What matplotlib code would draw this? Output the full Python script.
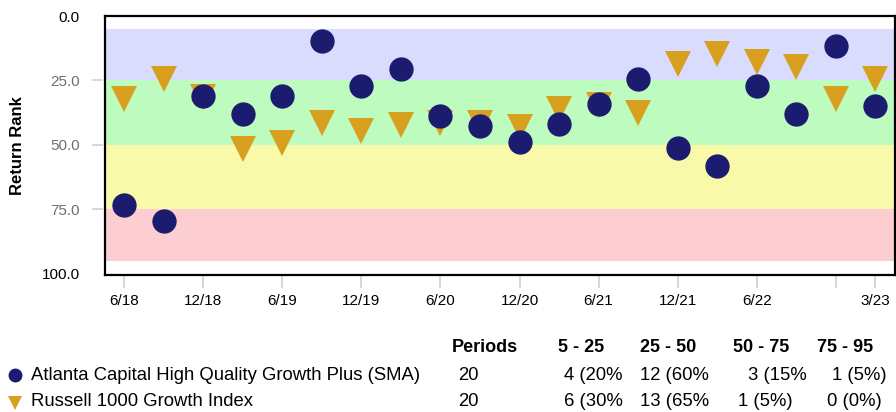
import matplotlib
matplotlib.use("Agg")
import matplotlib.pyplot as plt
from matplotlib.lines import Line2D

plt.rcParams['font.family'] = ['Liberation Sans', 'DejaVu Sans']

# ---------------- data ----------------
quarters = ["6/18", "9/18", "12/18", "3/19", "6/19", "9/19", "12/19", "3/20",
            "6/20", "9/20", "12/20", "3/21", "6/21", "9/21", "12/21", "3/22",
            "6/22", "9/22", "12/22", "3/23"]
atlanta = [73.5, 79.7, 31.2, 38.1, 31.2, 9.6, 27.3, 20.5, 38.7, 42.7,
           48.9, 42.0, 34.2, 24.6, 51.1, 58.1, 27.3, 38.1, 11.8, 35.0]
russell = [32.4, 24.6, 31.6, 51.7, 49.3, 41.6, 44.7, 42.3, 41.7, 41.6,
           43.2, 36.2, 34.7, 37.7, 18.5, 14.6, 17.7, 20.0, 32.4, 24.5]
tick_idx = [0, 2, 4, 6, 8, 10, 12, 14, 16, 18, 19]
tick_lbl = ["6/18", "12/18", "6/19", "12/19", "6/20", "12/20", "6/21",
            "12/21", "6/22", "", "3/23"]
band_edges = [5, 25, 50, 75, 95]
band_colors = ["#d9dcfd", "#bdfbbe", "#f9f9aa", "#fccdd1"]
yticks = [0, 25, 50, 75, 100]
ytick_lbl = ["0.0", "25.0", "50.0", "75.0", "100.0"]

series_names = ["Atlanta Capital High Quality Growth Plus (SMA)",
                "Russell 1000 Growth Index"]
headers = ["Periods", "5 - 25", "25 - 50", "50 - 75", "75 - 95"]
periods_n = ["20", "20"]
cells = [["4 (20%", "12 (60%", "3 (15%", "1 (5%)"],
         ["6 (30%", "13 (65%", "1 (5%)", "0 (0%)"]]

navy = "#1b1b6f"
gold = "#d9a020"

# ---------------- figure ----------------
W, H = 896, 412
fig = plt.figure(figsize=(W / 100, H / 100), dpi=100)
ax = fig.add_axes([104.5 / W, 1 - 275 / H, (895 - 104.5) / W, (275 - 16) / H])

for i in range(len(band_colors)):
    ax.axhspan(band_edges[i], band_edges[i + 1], color=band_colors[i], lw=0, zorder=0)

x = list(range(len(quarters)))
ax.plot(x, russell, linestyle="none", marker="v", ms=19.2, mew=0,
        color=gold, zorder=3)
ax.plot(x, atlanta, linestyle="none", marker="o", ms=17.5, mew=0,
        color=navy, zorder=4)

ax.set_xlim(-0.5, 19.5)
ax.set_ylim(100.6, 0.2)

for s in ax.spines.values():
    s.set_linewidth(1.6)
    s.set_color("black")

ax.set_xticks(tick_idx)
ax.set_xticklabels(tick_lbl, fontsize=11)
ax.set_yticks(yticks)
ax.set_yticklabels(ytick_lbl, fontsize=11)
ax.tick_params(axis="x", length=0, pad=14)
ax.tick_params(axis="y", length=0, pad=18)
for lab, v in zip(ax.get_yticklabels(), yticks):
    lab.set_color("black" if v in (0, 100) else "#6e6e6e")

# detached gray tick marks
tick_c = "#cfcfcf"
for t in tick_idx:
    ax.add_line(Line2D([t, t], [-0.008, -0.046], transform=ax.get_xaxis_transform(),
                       color=tick_c, lw=1.2, clip_on=False))
for v in yticks[1:-1]:
    ax.add_line(Line2D([-0.0149, -0.0035], [v, v], transform=ax.get_yaxis_transform(),
                       color=tick_c, lw=1.2, clip_on=False))

fig.text(17.5 / W, 1 - 146 / H, "Return Rank", rotation=90, fontsize=12,
         fontweight="bold", ha="center", va="center")

# ---------------- bottom table ----------------
def fx(px):
    return px / W

def fy(py):
    return 1 - py / H

header_x = [452, 558, 640, 733, 817]
for hx, h in zip(header_x, headers):
    fig.text(fx(hx), fy(348), h, fontsize=13, fontweight="bold",
             ha="left", va="center")

row_y = [376, 402]
cell_x = [[564, 640, 748, 832], [564, 640, 738, 827]]
markers = ["o", "v"]
mcolors = [navy, gold]
msizes = [10, 10.5]
for r in range(2):
    fig.add_artist(Line2D([fx(14.5)], [fy(row_y[r] + (1 if r else -1))],
                          transform=fig.transFigure, marker=markers[r],
                          ms=msizes[r], mew=0, color=mcolors[r], linestyle="none"))
    fig.text(fx(31), fy(row_y[r]), series_names[r], fontsize=13.3,
             ha="left", va="center")
    fig.text(fx(458), fy(row_y[r]), periods_n[r], fontsize=13.3,
             ha="left", va="center")
    for c in range(4):
        fig.text(fx(cell_x[r][c]), fy(row_y[r]), cells[r][c], fontsize=13.3,
                 ha="left", va="center")

fig.savefig("out.png", dpi=100)
